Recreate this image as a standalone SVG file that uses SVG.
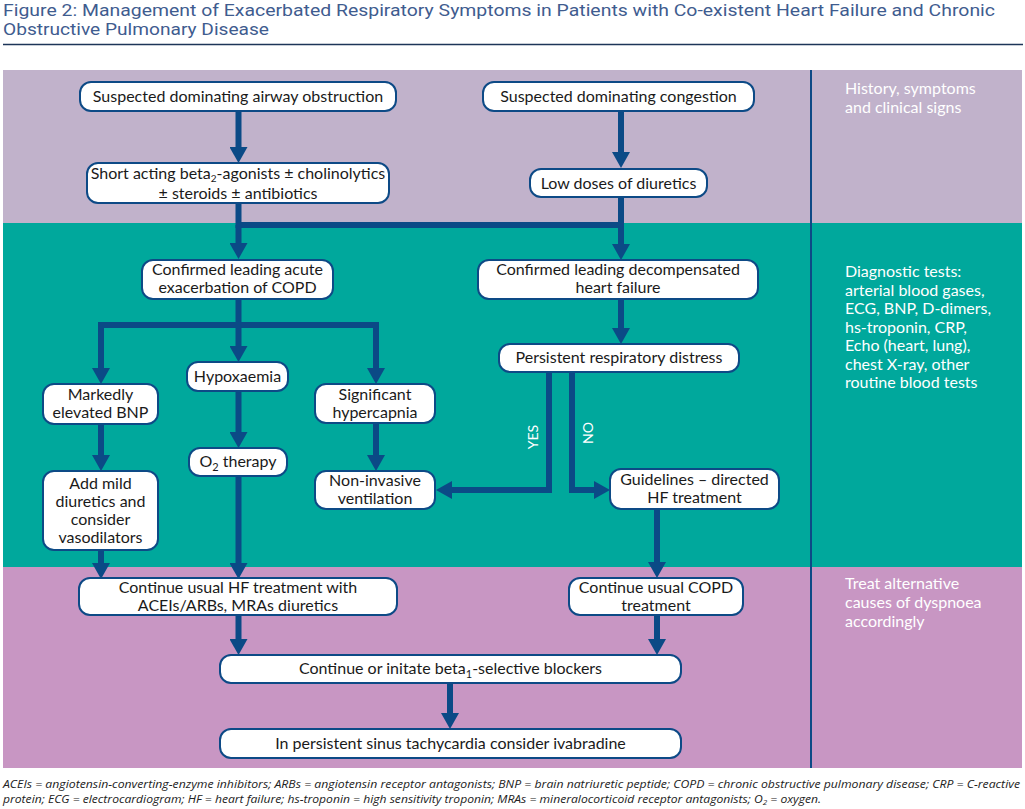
<svg xmlns="http://www.w3.org/2000/svg" width="1025" height="809" viewBox="0 0 1025 809">
<style>
.title{font-family:Roboto,"Liberation Sans",sans-serif;font-size:17px;fill:#3f5c8f}
.box{fill:#ffffff;stroke:#0d4a86;stroke-width:2}
.t{font-family:Lato,"Noto Sans",sans-serif;font-size:16px;fill:#1a1a1a;text-anchor:middle}
.side{font-family:Lato,"Noto Sans",sans-serif;font-size:16px;fill:#ffffff}
.lbl{font-family:Lato,"Noto Sans",sans-serif;font-size:14px;fill:#ffffff;text-anchor:middle}
.foot{font-family:"Open Sans","Liberation Sans",sans-serif;font-size:10.5px;font-style:italic;fill:#222}
.c{fill:none;stroke:#0b4a86;stroke-width:6;marker-end:url(#ah)}
.cn{fill:none;stroke:#0b4a86;stroke-width:6}
</style>
<defs>
<marker id="ah" markerUnits="userSpaceOnUse" markerWidth="18" markerHeight="18" viewBox="0 0 16 18" refX="6" refY="9" orient="auto">
<path d="M0,0 L16,9 L0,18 z" fill="#0b4a86"/>
</marker>
</defs>
<rect x="0" y="0" width="1025" height="809" fill="#ffffff"/>
<text class="title" x="3" y="16" textLength="992" lengthAdjust="spacingAndGlyphs">Figure 2: Management of Exacerbated Respiratory Symptoms in Patients with Co-existent Heart Failure and Chronic</text>
<text class="title" x="3" y="35" textLength="266" lengthAdjust="spacingAndGlyphs">Obstructive Pulmonary Disease</text>
<line x1="3" y1="44.5" x2="1023" y2="44.5" stroke="#1d3558" stroke-width="1.3"/>
<g id="bands">
<rect x="3" y="70" width="1019" height="153" fill="#c1b2cb"/>
<rect x="3" y="223" width="1019" height="344" fill="#00a89c"/>
<rect x="3" y="567" width="1019" height="201" fill="#c896c3"/>
<line x1="811" y1="70" x2="811" y2="768" stroke="#0d4a86" stroke-width="2"/>
</g>
<g id="side-labels">
<text class="side" x="845" y="94">History, symptoms</text>
<text class="side" x="845" y="113">and clinical signs</text>
<text class="side" x="845" y="277">Diagnostic tests:</text>
<text class="side" x="845" y="295.5">arterial blood gases,</text>
<text class="side" x="845" y="314">ECG, BNP, D-dimers,</text>
<text class="side" x="845" y="332.5">hs-troponin, CRP,</text>
<text class="side" x="845" y="351">Echo (heart, lung),</text>
<text class="side" x="845" y="369.5">chest X-ray, other</text>
<text class="side" x="845" y="388">routine blood tests</text>
<text class="side" x="845" y="589">Treat alternative</text>
<text class="side" x="845" y="608">causes of dyspnoea</text>
<text class="side" x="845" y="627">accordingly</text>
</g>
<g id="connectors">
<path class="c" d="M238.5,111 V153"/>
<path class="c" d="M621,111 V158"/>
<path class="cn" d="M238.5,203 V225 M621,197 V225 M235.5,225 H624"/>
<path class="c" d="M238.5,225 V249"/>
<path class="c" d="M621,225 V250"/>
<path class="cn" d="M238.5,299 V325 M98,325 H379"/>
<path class="c" d="M101,322 V374"/>
<path class="c" d="M238.5,325 V352"/>
<path class="c" d="M376,322 V374"/>
<path class="c" d="M101,424 V461"/>
<path class="c" d="M238.5,391 V438"/>
<path class="c" d="M376,423 V461"/>
<path class="c" d="M621,299 V334"/>
<path class="c" d="M549,372 V490 H446"/>
<path class="c" d="M572,372 V490 H600"/>
<path class="c" d="M657,509 V568"/>
<path class="c" d="M101,550 V569"/>
<path class="c" d="M238.5,476 V569"/>
<path class="c" d="M238.5,615 V645"/>
<path class="c" d="M657,615 V645"/>
<path class="c" d="M450,683 V719"/>
<text class="lbl" transform="translate(538,437) rotate(-90)">YES</text>
<text class="lbl" transform="translate(593,433) rotate(-90)">NO</text>
</g>
<g id="n1"><rect class="box" x="80" y="82" width="316" height="29" rx="11"/><text class="t" x="238" y="102">Suspected dominating airway obstruction</text></g>
<g id="n2"><rect class="box" x="87" y="163" width="302" height="40" rx="11"/><text class="t" x="238" y="179" font-size="15.5">Short acting beta<tspan font-size="10" dy="3">2</tspan><tspan dy="-3">-agonists ± cholinolytics</tspan></text><text class="t" x="238" y="199">± steroids ± antibiotics</text></g>
<g id="n3"><rect class="box" x="483" y="82" width="271" height="29" rx="11"/><text class="t" x="618.5" y="102">Suspected dominating congestion</text></g>
<g id="n4"><rect class="box" x="530" y="169" width="177" height="28" rx="11"/><text class="t" x="618.5" y="189">Low doses of diuretics</text></g>
<g id="n5"><rect class="box" x="142" y="260" width="191" height="39" rx="11"/><text class="t" x="237.5" y="275">Confirmed leading acute</text><text class="t" x="237.5" y="293">exacerbation of COPD</text></g>
<g id="n6"><rect class="box" x="478" y="260" width="280" height="39" rx="11"/><text class="t" x="618" y="275">Confirmed leading decompensated</text><text class="t" x="618" y="293">heart failure</text></g>
<g id="n7"><rect class="box" x="43" y="384" width="115" height="40" rx="11"/><text class="t" x="100.5" y="400">Markedly</text><text class="t" x="100.5" y="418">elevated BNP</text></g>
<g id="n8"><rect class="box" x="187" y="362" width="101" height="29" rx="11"/><text class="t" x="237.5" y="382">Hypoxaemia</text></g>
<g id="n9"><rect class="box" x="315" y="384" width="120" height="39" rx="11"/><text class="t" x="375" y="400">Significant</text><text class="t" x="375" y="418">hypercapnia</text></g>
<g id="n10"><rect class="box" x="43" y="471" width="115" height="79" rx="11"/><text class="t" x="100.5" y="489">Add mild</text><text class="t" x="100.5" y="507">diuretics and</text><text class="t" x="100.5" y="525">consider</text><text class="t" x="100.5" y="543">vasodilators</text></g>
<g id="n11"><rect class="box" x="189" y="448" width="98" height="28" rx="11"/><text class="t" x="238" y="467">O<tspan font-size="11" dy="4">2</tspan><tspan dy="-4"> therapy</tspan></text></g>
<g id="n12"><rect class="box" x="315" y="471" width="120" height="38" rx="11"/><text class="t" x="375" y="486">Non-invasive</text><text class="t" x="375" y="504">ventilation</text></g>
<g id="n13"><rect class="box" x="499" y="344" width="240" height="28" rx="11"/><text class="t" x="619" y="363">Persistent respiratory distress</text></g>
<g id="n14"><rect class="box" x="610" y="469" width="169" height="40" rx="11"/><text class="t" x="694.5" y="485">Guidelines – directed</text><text class="t" x="694.5" y="503">HF treatment</text></g>
<g id="n15"><rect class="box" x="79" y="578" width="318" height="37" rx="11"/><text class="t" x="238" y="593">Continue usual HF treatment with</text><text class="t" x="238" y="611">ACEIs/ARBs, MRAs diuretics</text></g>
<g id="n16"><rect class="box" x="569" y="578" width="174" height="37" rx="11"/><text class="t" x="656" y="593">Continue usual COPD</text><text class="t" x="656" y="611">treatment</text></g>
<g id="n17"><rect class="box" x="220" y="655" width="461" height="28" rx="11"/><text class="t" x="450.5" y="674">Continue or initate beta<tspan font-size="11" dy="4">1</tspan><tspan dy="-4">-selective blockers</tspan></text></g>
<g id="n18"><rect class="box" x="220" y="729" width="461" height="29" rx="11"/><text class="t" x="450.5" y="749">In persistent sinus tachycardia consider ivabradine</text></g>
<text class="foot" x="3" y="788" textLength="1017" lengthAdjust="spacingAndGlyphs">ACEIs = angiotensin-converting-enzyme inhibitors; ARBs = angiotensin receptor antagonists; BNP = brain natriuretic peptide; COPD = chronic obstructive pulmonary disease; CRP = C-reactive</text>
<text class="foot" x="3" y="803" textLength="818" lengthAdjust="spacingAndGlyphs">protein; ECG = electrocardiogram; HF = heart failure; hs-troponin = high sensitivity troponin; MRAs = mineralocorticoid receptor antagonists; O<tspan font-size="7" dy="2">2</tspan><tspan dy="-2"> = oxygen.</tspan></text>
</svg>
